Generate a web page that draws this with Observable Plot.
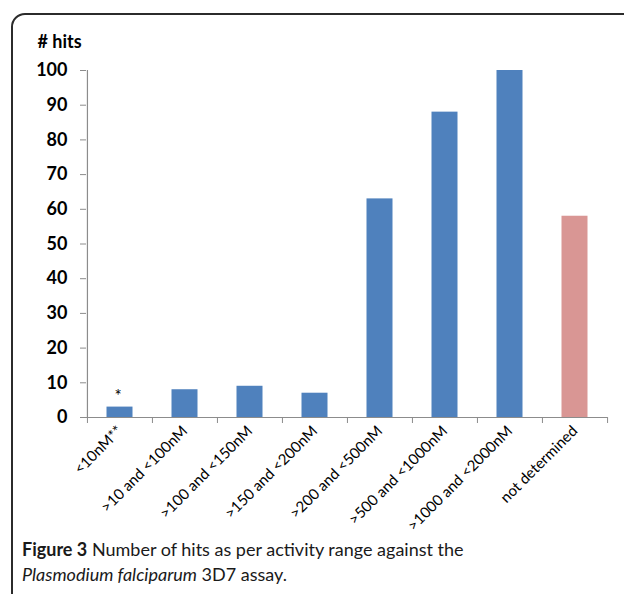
<!DOCTYPE html>
<html>
<head>
<meta charset="utf-8">
<script src="https://cdn.jsdelivr.net/npm/d3@7"></script>
<script src="https://cdn.jsdelivr.net/npm/@observablehq/plot@0.6"></script>
<style>
  html, body { margin: 0; padding: 0; background: #fff; }
  #wrap { position: relative; width: 624px; height: 594px; overflow: hidden; }
  #frame { position: absolute; left: 11px; top: 13px; width: 700px; height: 700px;
           border: 2px solid #2b2b2b; border-radius: 14px; box-sizing: border-box; }
  #chart { position: absolute; left: 0; top: 0; }
  #caption { position: absolute; left: 22px; top: 537px; font-family: Lato, sans-serif;
             font-size: 18px; line-height: 25px; color: #1a1a1a; white-space: nowrap; }
</style>
</head>
<body>
<div id="wrap">
  <div id="frame"></div>
  <div id="chart"></div>
  <div id="caption"><b>Figure 3</b> Number of hits as per activity range against the<br><i>Plasmodium falciparum</i> 3D7 assay.</div>
</div>
<script>
const categories = ["<10nM**", ">10 and <100nM", ">100 and <150nM", ">150 and <200nM",
  ">200 and <500nM", ">500 and <1000nM", ">1000 and <2000nM", "not determined"];
const hits = [3, 8, 9, 7, 63, 88, 100, 58];
const groups = ["measured", "measured", "measured", "measured", "measured", "measured", "measured", "undetermined"];
const yTicks = [0, 10, 20, 30, 40, 50, 60, 70, 80, 90, 100];
const annotations = [{category: "<10nM**", value: 3, label: "*"}];

const data = categories.map((c, i) => ({category: c, value: hits[i], group: groups[i]}));

const W = 624, H = 560, mL = 86, mR = 17, mT = 70, mB = 143;
const bw = (W - mL - mR) / categories.length;
const axisColor = "#8c8c8c";

const chart = Plot.plot({
  width: W, height: H,
  marginLeft: mL, marginRight: mR, marginTop: mT, marginBottom: mB,
  style: {fontFamily: "Lato, sans-serif", color: "#000", background: "transparent"},
  x: {domain: categories, padding: 0, axis: null},
  y: {domain: [0, 100], axis: null},
  color: {domain: ["measured", "undetermined"], range: ["#4f81bd", "#d99694"]},
  marks: [
    Plot.barY(data, {x: "category", y: "value", fill: "group", insetLeft: 19.5, insetRight: 19.5}),
    Plot.ruleY([0], {stroke: axisColor, strokeWidth: 1.2}),
    Plot.ruleX([categories[0]], {y1: 0, y2: 100, dx: -bw / 2, stroke: axisColor, strokeWidth: 1.2}),
    Plot.axisY({ticks: yTicks, tickSize: 6, tickPadding: 13, stroke: axisColor, fontSize: 18, fontWeight: "bold", fill: "#000", label: null}),
    Plot.axisX({ticks: categories, tickSize: 6, dx: -bw / 2, stroke: axisColor, tickFormat: () => "", label: null}),
    Plot.axisX({ticks: [categories[categories.length - 1]], tickSize: 6, dx: bw / 2, stroke: axisColor, tickFormat: () => "", label: null}),
    Plot.axisX({ticks: categories, tickSize: 0, tickPadding: 3, tickRotate: -45, dx: 0, dy: 8, fontSize: 15, fill: "#000", label: null}),
    Plot.text(annotations, {x: "category", y: "value", text: "label", dy: -11, dx: -2, fontSize: 17, fill: "#000"}),
    Plot.text(["# hits"], {frameAnchor: "top-left", dx: -49, dy: -35, textAnchor: "start", fontSize: 18, fontWeight: "bold", fill: "#000"})
  ]
});
document.getElementById("chart").appendChild(chart);
</script>
</body>
</html>
